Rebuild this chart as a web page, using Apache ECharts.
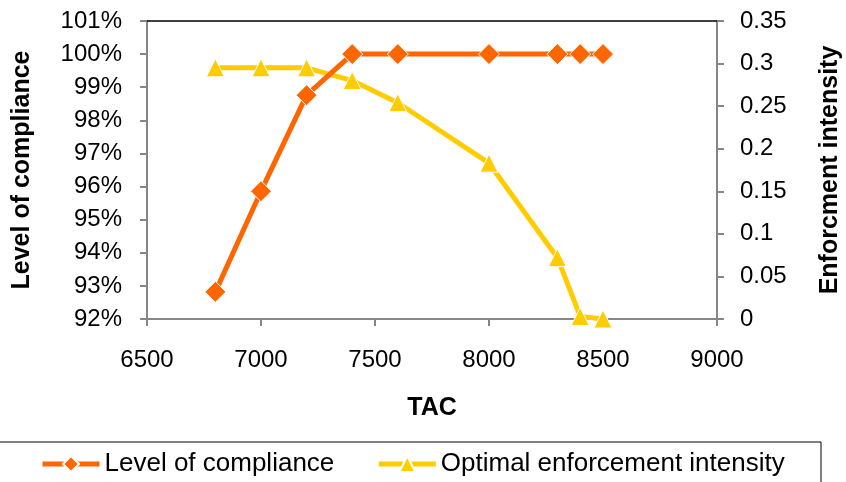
<!DOCTYPE html>
<html>
<head>
<meta charset="utf-8">
<script src="https://cdn.jsdelivr.net/npm/echarts@6/dist/echarts.min.js"></script>
<style>
html,body{margin:0;padding:0;background:#fff;}
#c{width:846px;height:482px;}
</style>
</head>
<body>
<div id="c"></div>
<script>
var tac = [6800, 7000, 7200, 7400, 7600, 8000, 8300, 8400, 8500];
var compliance = [92.82, 95.86, 98.76, 100, 100, 100, 100, 100, 100];
var enforcement = [0.295, 0.295, 0.295, 0.280, 0.254, 0.183, 0.072, 0.003, 0.0];
var seriesNames = ['Level of compliance', 'Optimal enforcement intensity'];

var FONT = '"Liberation Sans", Arial, sans-serif';
var chart = echarts.init(document.getElementById('c'), null, {renderer: 'canvas'});
var axisGray = '#868686';

chart.setOption({
  animation: false,
  backgroundColor: '#ffffff',
  textStyle: {fontFamily: FONT},
  grid: {left: 147, right: 129, top: 21, bottom: 163, containLabel: false, outerBoundsMode: 'none'},
  xAxis: [{
    type: 'value', min: 6500, max: 9000, interval: 500,
    name: 'TAC', nameLocation: 'middle', nameGap: 77,
    nameTextStyle: {fontFamily: FONT, fontSize: 25, fontWeight: 'bold', color: '#000'},
    axisLine: {show: true, lineStyle: {color: axisGray, width: 2}},
    axisTick: {show: true, inside: false, length: 7, lineStyle: {color: axisGray, width: 2}},
    axisLabel: {fontFamily: FONT, fontSize: 24, color: '#000', margin: 29,
      formatter: function (v) { return String(v); }},
    splitLine: {show: false}
  }, {
    type: 'value', min: 6500, max: 9000, interval: 500, position: 'top',
    axisLine: {show: true, onZero: false, lineStyle: {color: '#000', width: 1.5}},
    axisTick: {show: false}, axisLabel: {show: false}, splitLine: {show: false}
  }],
  yAxis: [{
    type: 'value', min: 92, max: 101, interval: 1,
    name: 'Level of compliance', nameLocation: 'middle', nameGap: 112, nameRotate: 90,
    nameTextStyle: {fontFamily: FONT, fontSize: 25, fontWeight: 'bold', color: '#000'},
    axisLine: {show: true, onZero: false, lineStyle: {color: axisGray, width: 2}},
    axisTick: {show: true, length: 7, lineStyle: {color: axisGray, width: 2}},
    axisLabel: {fontFamily: FONT, fontSize: 24, color: '#000', margin: 25, formatter: '{value}%'},
    splitLine: {show: false}
  }, {
    type: 'value', min: 0, max: 0.35, interval: 0.05, position: 'right',
    name: 'Enforcment intensity', nameLocation: 'middle', nameGap: 101, nameRotate: 90,
    nameTextStyle: {fontFamily: FONT, fontSize: 25, fontWeight: 'bold', color: '#000'},
    axisLine: {show: true, onZero: false, lineStyle: {color: axisGray, width: 2}},
    axisTick: {show: true, length: 7, lineStyle: {color: axisGray, width: 2}},
    axisLabel: {fontFamily: FONT, fontSize: 24, color: '#000', margin: 23,
      formatter: function (v) { return String(Math.round(v * 100) / 100); }},
    splitLine: {show: false}
  }],
  legend: {
    left: 40, top: 451, padding: 0,
    itemWidth: 57, itemHeight: 20, itemGap: 42,
    lineStyle: {width: 5},
    textStyle: {fontFamily: FONT, fontSize: 26, color: '#000'},
    data: seriesNames
  },
  graphic: [{
    type: 'rect', silent: true,
    shape: {x: -1, y: 442, width: 822, height: 60},
    style: {fill: 'none', stroke: '#000', lineWidth: 1}
  }],
  series: [{
    name: seriesNames[0], type: 'line', xAxisIndex: 0, yAxisIndex: 0,
    data: tac.map(function (t, i) { return [t, compliance[i]]; }),
    symbol: 'diamond', symbolSize: 21,
    lineStyle: {color: '#FF6600', width: 5},
    itemStyle: {color: '#FF6600', borderColor: '#fff', borderWidth: 1},
    z: 3
  }, {
    name: seriesNames[1], type: 'line', xAxisIndex: 0, yAxisIndex: 1,
    data: tac.map(function (t, i) { return [t, enforcement[i]]; }),
    symbol: 'triangle', symbolSize: 18,
    lineStyle: {color: '#FFCC00', width: 5},
    itemStyle: {color: '#FFCC00', borderColor: '#fff', borderWidth: 1},
    z: 2
  }]
});
</script>
</body>
</html>
